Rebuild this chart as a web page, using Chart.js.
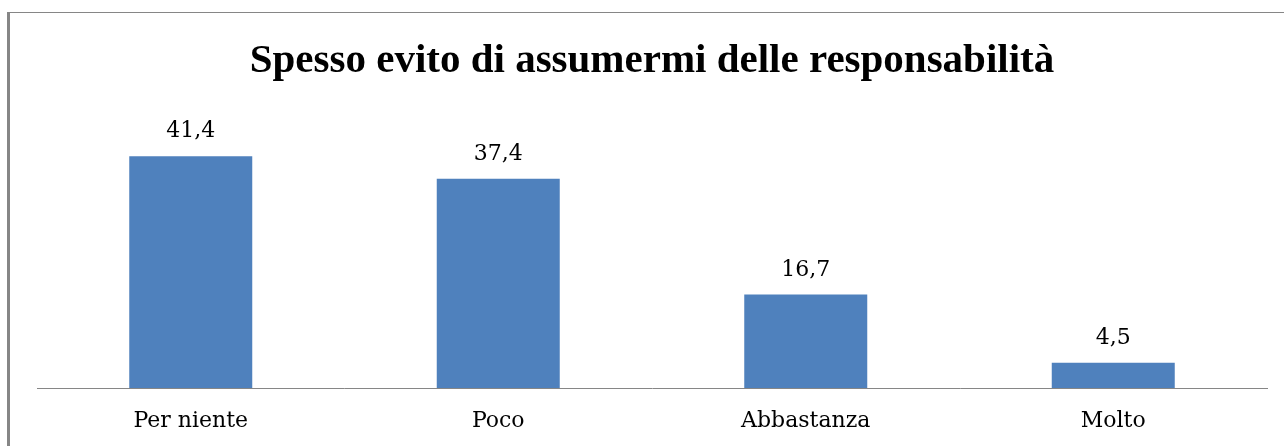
<!DOCTYPE html>
<html><head><meta charset="utf-8">
<script src="https://cdn.jsdelivr.net/npm/chart.js@4.4.0/dist/chart.umd.min.js"></script>
<style>
html,body{margin:0;padding:0;background:#fff;}
#wrap{position:relative;width:1284px;height:446px;}
#frame{position:absolute;left:7px;top:12px;width:1290px;height:450px;border-left:3px solid #868686;border-top:1px solid #868686;box-sizing:border-box;}
canvas{position:absolute;left:0;top:0;}
</style></head>
<body><div id="wrap"><div id="frame"></div><canvas id="c" width="1284" height="446"></canvas></div>
<script>
const chartTitle = "Spesso evito di assumermi delle responsabilità";
const categories = ["Per niente", "Poco", "Abbastanza", "Molto"];
const values = [41.4, 37.4, 16.7, 4.5];
const valueLabels = ["41,4", "37,4", "16,7", "4,5"];

const serif = "'DejaVu Serif', 'Liberation Serif', serif";
const titleSerif = "'Liberation Serif', serif";

const labelPlugin = {
  id: 'valLabels',
  afterDatasetsDraw(chart) {
    const ctx = chart.ctx;
    const meta = chart.getDatasetMeta(0);
    ctx.save();
    ctx.font = "22px " + serif;
    ctx.fillStyle = "#000";
    ctx.textAlign = "center";
    ctx.textBaseline = "alphabetic";
    meta.data.forEach((bar, i) => {
      ctx.fillText(valueLabels[i], bar.x, bar.y - 19);
    });
    ctx.restore();
  }
};

new Chart(document.getElementById('c'), {
  type: 'bar',
  data: {
    labels: categories,
    datasets: [{
      data: values,
      backgroundColor: '#4F81BD',
      borderWidth: 0,
      categoryPercentage: 1.0,
      barPercentage: 0.4
    }]
  },
  options: {
    responsive: false,
    animation: false,
    layout: { padding: { left: 37, right: 17, top: 0, bottom: 0 } },
    plugins: {
      legend: { display: false },
      tooltip: { enabled: false },
      title: {
        display: true,
        text: chartTitle,
        color: '#000',
        font: { family: titleSerif, size: 41, weight: 'bold' },
        padding: { top: 37, bottom: 22 }
      }
    },
    scales: {
      x: {
        grid: { display: false, drawTicks: false },
        border: { display: true, color: '#868686', width: 1 },
        ticks: { color: '#000', font: { family: serif, size: 22 }, padding: 20 },
        afterFit(s) { s.height = 58; }
      },
      y: {
        display: false,
        min: 0,
        max: 50
      }
    }
  },
  plugins: [labelPlugin]
});
</script>
</body></html>
